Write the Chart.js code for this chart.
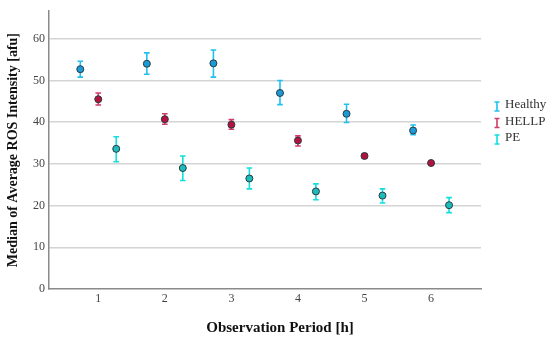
<!DOCTYPE html>
<html>
<head>
<meta charset="utf-8">
<script src="https://cdn.jsdelivr.net/npm/chart.js@4/dist/chart.umd.min.js"></script>
<style>
  html, body { margin: 0; padding: 0; background: #fff; }
  #wrap { width: 550px; height: 345px; position: relative; }
</style>
</head>
<body>
<div id="wrap"><canvas id="chart"></canvas></div>
<script>
const periods = [1, 2, 3, 4, 5, 6]
const groups = ['Healthy', 'HELLP', 'PE']

const healthyMedian = [52.7, 54.0, 54.1, 47.0, 42.0, 38.0]
const healthyLow = [50.8, 51.5, 50.8, 44.2, 39.9, 37.0]
const healthyHigh = [54.6, 56.6, 57.3, 50.0, 44.3, 39.3]

const hellpMedian = [45.5, 40.7, 39.4, 35.6, 31.9, 30.2]
const hellpLow = [44.1, 39.5, 38.3, 34.3, 31.4, 29.9]
const hellpHigh = [47.0, 42.0, 40.6, 36.7, 32.4, 30.6]

const peMedian = [33.6, 29.0, 26.5, 23.4, 22.4, 20.1]
const peLow = [30.5, 26.0, 24.0, 21.4, 20.6, 18.3]
const peHigh = [36.5, 31.9, 29.0, 25.2, 24.0, 21.9]

const yTicks = [0, 10, 20, 30, 40, 50, 60]

const xTitle = 'Observation Period [h]'
const yTitle = 'Median of Average ROS Intensity [afu]'

const serif = '"Liberation Serif", "DejaVu Serif", serif'
const groupOffset = [-0.27, 0, 0.27]
const fillColors = ['#1a9ad6', '#b3123f', '#1cbcbc']
const barColors = ['#22c0f0', '#d23c68', '#12dede']

const medians = [healthyMedian, hellpMedian, peMedian]
const lows = [healthyLow, hellpLow, peLow]
const highs = [healthyHigh, hellpHigh, peHigh]

const datasets = groups.map((name, g) => ({
  label: name,
  data: periods.map((p, i) => ({ x: p + groupOffset[g], y: medians[g][i] })),
  low: lows[g],
  high: highs[g],
  backgroundColor: fillColors[g],
  borderColor: '#2b3a40',
  borderWidth: 1,
  pointRadius: 3.5,
  barColor: barColors[g]
}))

// error bars drawn beneath the points, through the chart's scales
const errorBars = {
  id: 'errorBars',
  beforeDatasetsDraw(chart) {
    const { ctx, scales: { x, y } } = chart
    ctx.save()
    chart.data.datasets.forEach((ds) => {
      ctx.strokeStyle = ds.barColor
      ctx.lineWidth = 1.6
      ds.data.forEach((pt, i) => {
        const px = x.getPixelForValue(pt.x)
        const top = y.getPixelForValue(ds.high[i])
        const bot = y.getPixelForValue(ds.low[i])
        ctx.beginPath()
        ctx.moveTo(px, top); ctx.lineTo(px, bot)
        ctx.moveTo(px - 2.8, top); ctx.lineTo(px + 2.8, top)
        ctx.moveTo(px - 2.8, bot); ctx.lineTo(px + 2.8, bot)
        ctx.stroke()
      })
    })
    ctx.restore()
  }
}

// legend with I-shaped error bar glyphs, plus the x title (offset from axis centre)
const extras = {
  id: 'extras',
  afterDraw(chart) {
    const { ctx } = chart
    ctx.save()
    ctx.font = '13px ' + serif
    ctx.textBaseline = 'middle'
    chart.data.datasets.forEach((ds, i) => {
      const cy = 106 + i * 16.5
      const gx = 497
      ctx.strokeStyle = ds.barColor
      ctx.lineWidth = 1.6
      ctx.beginPath()
      ctx.moveTo(gx, cy - 4); ctx.lineTo(gx, cy + 5)
      ctx.moveTo(gx - 2.5, cy - 4); ctx.lineTo(gx + 2.5, cy - 4)
      ctx.moveTo(gx - 2.5, cy + 5); ctx.lineTo(gx + 2.5, cy + 5)
      ctx.stroke()
      ctx.fillStyle = '#333'
      ctx.textAlign = 'left'
      ctx.fillText(ds.label, 505, cy - 1)
    })
    ctx.font = 'bold 15px ' + serif
    ctx.fillStyle = '#111'
    ctx.textAlign = 'center'
    ctx.fillText(xTitle, 280, 328)
    ctx.restore()
  }
}

new Chart(document.getElementById('chart'), {
  type: 'scatter',
  data: { datasets },
  plugins: [errorBars, extras],
  options: {
    responsive: true,
    maintainAspectRatio: false,
    animation: false,
    layout: { padding: { top: 7, right: 69, left: 0, bottom: 0 } },
    plugins: { legend: { display: false }, tooltip: { enabled: false } },
    scales: {
      x: {
        type: 'linear',
        min: 0.26,
        max: 6.75,
        afterBuildTicks: (s) => { s.ticks = periods.map((v) => ({ value: v })) },
        afterFit: (s) => { s.height = 56 },
        grid: { display: false, drawTicks: false },
        border: { color: '#8a8a8a', width: 1.5 },
        ticks: { color: '#444', font: { family: serif, size: 12 }, padding: 3 }
      },
      y: {
        min: 0,
        max: 66.6,
        afterBuildTicks: (s) => { s.ticks = yTicks.map((v) => ({ value: v })) },
        afterFit: (s) => { s.width = 49 },
        grid: {
          color: (c) => (c.tick && c.tick.value === 0 ? 'rgba(0,0,0,0)' : '#d4d4d4'),
          lineWidth: 1.5,
          drawTicks: false
        },
        border: { color: '#8a8a8a', width: 1.5 },
        ticks: { color: '#444', font: { family: serif, size: 12 }, padding: 4 },
        title: {
          display: true,
          text: yTitle,
          color: '#111',
          font: { family: serif, size: 14, weight: 'bold' },
          padding: { top: 5, bottom: 0 }
        }
      }
    }
  }
})
</script>
</body>
</html>
